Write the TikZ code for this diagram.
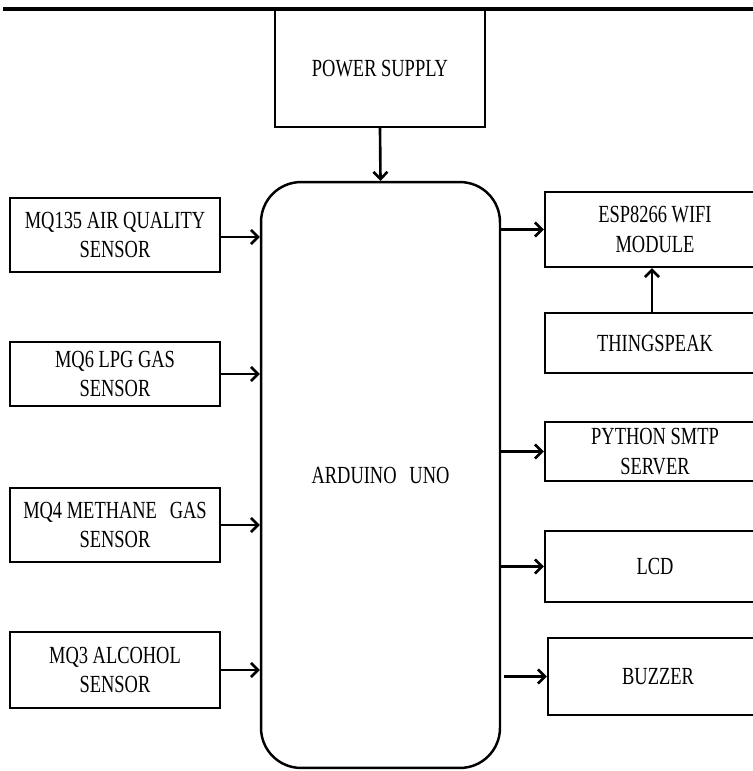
\documentclass[tikz,border=0pt]{standalone}
\usepackage{fontspec}
\setmainfont{Liberation Serif}[FakeStretch=0.75]
\usepackage{tikz}
\usetikzlibrary{positioning, arrows.meta}

\tikzset{
    blockbox/.style={
        draw,
        rectangle,
        line width=1.4pt,
        align=center,
        inner sep=2pt,
        font=\fontsize{14}{16.8}\selectfont
    },
    sigline/.style={
        line width=1.5pt,
        -{Straight Barb[length=4pt,width=8pt,line width=1.5pt]}
    }
}

\begin{document}
\begin{tikzpicture}[x=0.02cm, y=-0.02cm]
    \useasboundingbox (0,0) rectangle (753,771);

    % top rule of the page
    \draw[line width=2.6pt] (3,9) -- (753,9);

    % controller
    \node[
        draw,
        rectangle,
        rounded corners=0.8cm,
        line width=1.4pt,
        minimum width=4.78cm,
        minimum height=11.72cm,
        font=\fontsize{14}{16.8}\selectfont
    ] (uno) at (380.5,475) {ARDUINO\,\, UNO};

    \node[blockbox, minimum width=4.2cm, minimum height=2.34cm] (power) at (380,68.5) {POWER SUPPLY};

    % sensors on the left
    \node[blockbox, minimum width=4.2cm, minimum height=1.48cm] (mqair) at (115,235) {MQ135 AIR QUALITY\\SENSOR};
    \node[blockbox, minimum width=4.2cm, minimum height=1.28cm] (mqlpg) at (115,374) {MQ6 LPG GAS\\SENSOR};
    \node[blockbox, minimum width=4.2cm, minimum height=1.48cm] (mqmeth) at (115,525) {MQ4 METHANE\,\, GAS\\SENSOR};
    \node[blockbox, minimum width=4.2cm, minimum height=1.52cm] (mqalc) at (115,670) {MQ3 ALCOHOL\\SENSOR};

    % outputs on the right
    \node[blockbox, minimum width=4.4cm, minimum height=1.5cm] (esp) at (655,229.5) {ESP8266 WIFI\\MODULE};
    \node[blockbox, minimum width=4.4cm, minimum height=1.2cm] (thing) at (655,343) {THINGSPEAK};
    \node[blockbox, minimum width=4.4cm, minimum height=1.18cm] (smtp) at (655,451.5) {PYTHON SMTP\\SERVER};
    \node[blockbox, minimum width=4.4cm, minimum height=1.42cm] (lcd) at (655,566.5) {LCD};
    \node[blockbox, minimum width=4.4cm, minimum height=1.54cm] (buzz) at (658,676.5) {BUZZER};

    % connections
    \draw[sigline] (power.south) -- (uno.north);
    \draw[sigline] ([yshift=-0.04cm]mqair.east) -- ([yshift=-0.04cm]mqair.east -| uno.west);
    \draw[sigline] (mqlpg.east) -- (mqlpg.east -| uno.west);
    \draw[sigline] (mqmeth.east) -- (mqmeth.east -| uno.west);
    \draw[sigline] (mqalc.east) -- (mqalc.east -| uno.west);
    \draw[sigline] (uno.east |- esp.west) -- (esp.west);
    \draw[sigline] (thing.north -| 652,0) -- (esp.south -| 652,0);
    \draw[sigline] (uno.east |- smtp.west) -- (smtp.west);
    \draw[sigline] (uno.east |- lcd.west) -- (lcd.west);
    \draw[sigline] ([xshift=0.06cm]uno.east |- buzz.west) -- (buzz.west);
\end{tikzpicture}
\end{document}
